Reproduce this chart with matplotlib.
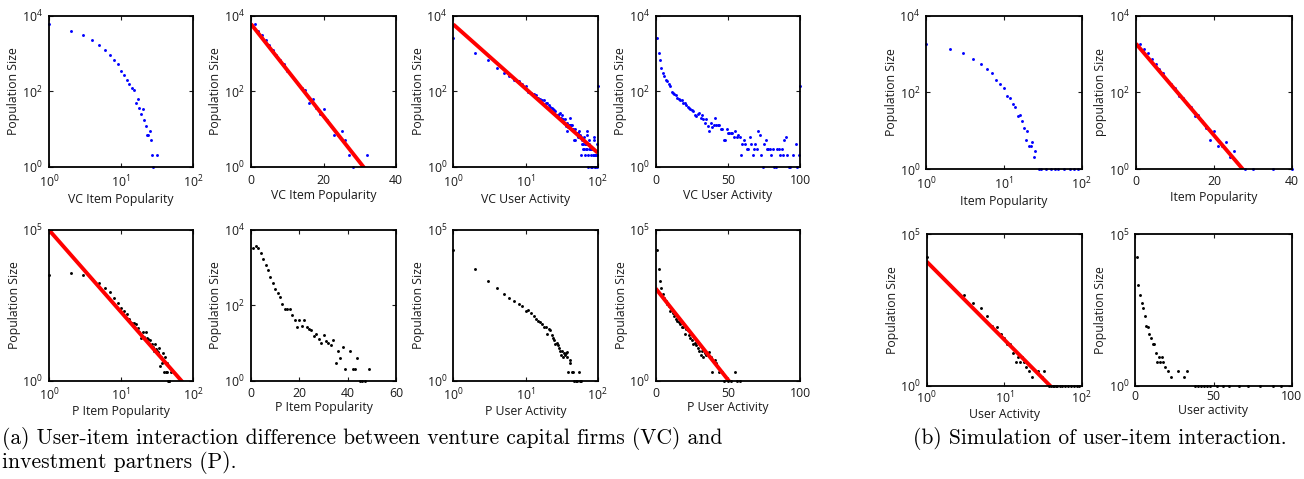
import numpy as np
import matplotlib
matplotlib.use("Agg")
import matplotlib.pyplot as plt
from matplotlib.ticker import FixedLocator, FixedFormatter, NullLocator

plt.rcParams['font.family'] = ['Open Sans', 'DejaVu Sans']
plt.rcParams['mathtext.default'] = 'regular'

# ---------------- data ----------------
# VC item popularity (x: popularity, y: population size)
vc_item_x = [1, 2, 3, 4, 5, 6, 7, 8, 9, 10, 11, 12, 13, 14, 15, 16, 17, 18, 19, 20,
             21, 22, 23, 24, 25, 26, 27, 28, 32]
vc_item_y = [5900, 3880, 3090, 2230, 1640, 1200, 890, 675, 525, 348, 265, 198, 159, 120,
             108, 49, 61, 35, 25, 33, 17, 12, 7, 7, 9, 5, 2, 1, 2]

# VC user activity
vc_user_x = list(range(1, 94)) + [95, 97, 98, 99, 100]
vc_user_y = [2500, 1000, 676, 417, 309, 251, 200, 186, 151, 138,
             98, 91, 83, 78, 68, 62, 59, 59, 50, 48,
             43, 39, 36, 33, 32, 29, 23, 22, 25, 26,
             20, 23, 18, 14, 18, 12, 9, 14, 11, 13,
             19, 13, 13, 13, 10, 10, 5, 5, 10, 8,
             8, 8, 8, 6, 9, 6, 7, 6, 2, 4,
             5, 4, 3, 3, 6, 4, 2, 3, 4, 3,
             9, 7, 2, 1, 4, 5, 3, 3, 3, 2,
             3, 1, 1, 3, 3, 2, 3, 2, 5, 6,
             2, 1, 1, 2, 4, 1, 2, 138]

# P item popularity
p_item_x = list(range(1, 39)) + [39, 41, 42, 43, 44, 49, 45, 46, 47]
p_item_y = [3300, 3800, 3300, 2400, 1740, 1200, 890, 550, 390, 265,
            208, 163, 110, 80, 80, 78, 55, 42, 26, 40,
            28, 40, 27, 24, 22, 15, 17, 13, 10, 16,
            11, 10, 9, 12, 3, 6, 4, 8, 2, 6, 2, 2, 4, 2, 1, 1, 1]

# P user activity
p_user_x = list(range(1, 39)) + [39, 41, 42, 44, 46, 55, 47, 50, 52, 56, 58]
p_user_y = [21900, 4900, 2040, 1200, 770, 550, 440, 350, 295, 210,
            222, 171, 140, 109, 98, 89, 76, 62, 59, 36,
            52, 48, 32, 27, 22, 17, 18, 15, 12, 10,
            7, 10, 6, 8, 7, 8, 9, 6, 2, 5, 4, 2, 2, 2, 1, 1, 1, 1, 1]

# Simulation: item popularity
sim_item_x = [1, 2, 3, 4, 5, 6, 7, 8, 9, 10, 11, 12, 13, 14, 15, 16, 17, 18, 19, 20,
              21, 22, 23, 24, 25, 28, 30, 35, 40, 45, 50, 60, 70, 80, 90]
sim_item_y = [1860, 1320, 1040, 760, 550, 398, 315, 215, 168, 127, 79, 72, 50, 42, 24,
              26, 17.5, 11.7, 5.8, 9.6, 4, 4, 5, 2, 3, 1, 1, 1, 1, 1, 1, 1, 1, 1, 1]

# Simulation: user activity
sim_user_x = [1, 2, 3, 4, 5, 6, 7, 8, 9, 10, 11, 12, 13, 14, 15, 16, 17, 18, 19, 21,
              23, 27, 31, 33, 38, 40, 42, 44, 46, 48, 52, 56, 60, 66, 72, 80, 88, 93]
sim_user_y = [17900, 2090, 975, 530, 355, 198, 95, 84, 52, 37, 24, 24, 12, 6, 9, 6, 9,
              6, 4, 3, 2, 3, 2, 3, 1, 1, 1, 1, 1, 1, 1, 1, 1, 1, 1, 1, 1, 1]

# fitted lines: log10(y) = a + b * x   (semi-log)   or   a + b * log10(x)   (log-log)
vc_item_fit = (3.78, -0.122)
vc_user_fit = (3.77, -1.70)
p_item_fit = (5.0, -2.72)
p_user_fit = (3.06, -0.0606)
sim_item_fit = (3.27, -0.1196)
sim_user_fit = (4.09, -2.57)

# ---------------- figure ----------------
W, H = 1304, 479
fig = plt.figure(figsize=(W / 100, H / 100), dpi=100)

BLUE = '#0000ff'
BLACK = '#000000'
RED = '#ff0000'
FS = 8.8
TXT = '#1a1a1a'


def make_ax(x0, y0, x1, y1):
    return fig.add_axes([x0 / W, 1 - y1 / H, (x1 - x0) / W, (y1 - y0) / H])


def sup(e):
    return r'$\mathdefault{10^{%d}}$' % e


def style(ax, xlog, xlim, xticks, ylim_exp, yticks_exp, xlabel, ylabel,
          xpad=5.0, xlabelpad=2):
    ax.set_yscale('log')
    if xlog:
        ax.set_xscale('log')
    ax.set_xlim(*xlim)
    ax.set_ylim(10 ** ylim_exp[0], 10 ** ylim_exp[1])
    ax.yaxis.set_major_locator(FixedLocator([10.0 ** e for e in yticks_exp]))
    ax.yaxis.set_major_formatter(FixedFormatter([sup(e) for e in yticks_exp]))
    ax.yaxis.set_minor_locator(NullLocator())
    if xlog:
        ax.xaxis.set_major_locator(FixedLocator(xticks))
        ax.xaxis.set_major_formatter(FixedFormatter([sup(int(round(np.log10(t)))) for t in xticks]))
        ax.xaxis.set_minor_locator(NullLocator())
    else:
        ax.xaxis.set_major_locator(FixedLocator(xticks))
        ax.xaxis.set_major_formatter(FixedFormatter([str(t) for t in xticks]))
    ax.tick_params(which='both', direction='in', length=3, width=0.8,
                   top=True, right=True, labelsize=FS, colors=TXT)
    ax.tick_params(axis='x', pad=xpad)
    ax.tick_params(axis='y', pad=4.5)
    for s in ax.spines.values():
        s.set_linewidth(1.3)
        s.set_color('black')
        s.set_zorder(5)
    ax.set_xlabel(xlabel, fontsize=FS, color=TXT, labelpad=xlabelpad)
    ax.set_ylabel(ylabel, fontsize=FS, color=TXT, labelpad=1)


def dots(ax, x, y, color):
    ax.plot(x, y, linestyle='none', marker='o', ms=2.1, mew=0, color=color,
            clip_on=False, zorder=3)


def fit_line(ax, fit, xlog, xr):
    a, b = fit
    xs = np.array(xr, dtype=float)
    if xlog:
        ys = 10 ** (a + b * np.log10(xs))
    else:
        ys = 10 ** (a + b * xs)
    ax.plot(xs, ys, color=RED, lw=2.8, zorder=4, solid_capstyle='butt')


# positions (pixels)
TOP = (15.7, 166.7)
BOT = (230, 380.7)
LX = [(49, 193), (251, 396), (453.3, 597.7), (655.7, 800.3)]
RX_T = [(926.3, 1081.7), (1136, 1292)]
RX_B = [(926.7, 1081.7), (1135.3, 1291.7)]
RTOP = (15.7, 169)
RBOT = (234, 385.7)

# --- top row, (a)
ax = make_ax(LX[0][0], TOP[0], LX[0][1], TOP[1])
style(ax, True, (1, 100), [1, 10, 100], (0, 4), [0, 2, 4], 'VC Item Popularity', 'Population Size')
dots(ax, vc_item_x, vc_item_y, BLUE)

ax = make_ax(LX[1][0], TOP[0], LX[1][1], TOP[1])
style(ax, False, (0, 40), [0, 20, 40], (0, 4), [0, 2, 4], 'VC Item Popularity', 'Population Size')
dots(ax, vc_item_x, vc_item_y, BLUE)
fit_line(ax, vc_item_fit, False, [0, 40])

ax = make_ax(LX[2][0], TOP[0], LX[2][1], TOP[1])
style(ax, True, (1, 100), [1, 10, 100], (0, 4), [0, 2, 4], 'VC User Activity', 'Population Size')
dots(ax, vc_user_x, vc_user_y, BLUE)
fit_line(ax, vc_user_fit, True, [1, 100])

ax = make_ax(LX[3][0], TOP[0], LX[3][1], TOP[1])
style(ax, False, (0, 100), [0, 50, 100], (0, 4), [0, 2, 4], 'VC User Activity', 'Population Size')
dots(ax, vc_user_x, vc_user_y, BLUE)

# --- bottom row, (a)
ax = make_ax(LX[0][0], BOT[0], LX[0][1], BOT[1])
style(ax, True, (1, 100), [1, 10, 100], (0, 5), [0, 5], 'P Item Popularity', 'Population Size',
      xpad=4.5, xlabelpad=1)
dots(ax, p_item_x, p_item_y, BLACK)
fit_line(ax, p_item_fit, True, [1, 100])

ax = make_ax(LX[1][0], BOT[0], LX[1][1], BOT[1])
style(ax, False, (0, 60), [0, 20, 40, 60], (0, 4), [0, 2, 4], 'P Item Popularity', 'Population Size',
      xpad=4.5, xlabelpad=1)
dots(ax, p_item_x, p_item_y, BLACK)

ax = make_ax(LX[2][0], BOT[0], LX[2][1], BOT[1])
style(ax, True, (1, 100), [1, 10, 100], (0, 5), [0, 5], 'P User Activity', 'Population Size',
      xpad=4.5, xlabelpad=1)
dots(ax, p_user_x, p_user_y, BLACK)

ax = make_ax(LX[3][0], BOT[0], LX[3][1], BOT[1])
style(ax, False, (0, 100), [0, 50, 100], (0, 5), [0, 5], 'P User Activity', 'Population Size',
      xpad=4.5, xlabelpad=1)
dots(ax, p_user_x, p_user_y, BLACK)
fit_line(ax, p_user_fit, False, [0, 100])

# --- right group, (b)
ax = make_ax(RX_T[0][0], RTOP[0], RX_T[0][1], RTOP[1])
style(ax, True, (1, 100), [1, 10, 100], (0, 4), [0, 2, 4], 'Item Popularity', 'Population Size',
      xpad=4.5, xlabelpad=2)
dots(ax, sim_item_x, sim_item_y, BLUE)

ax = make_ax(RX_T[1][0], RTOP[0], RX_T[1][1], RTOP[1])
style(ax, False, (0, 40), [0, 20, 40], (0, 4), [0, 2, 4], 'Item Popularity', 'population Size',
      xpad=4.5, xlabelpad=2)
dots(ax, sim_item_x, sim_item_y, BLUE)
fit_line(ax, sim_item_fit, False, [0, 40])

ax = make_ax(RX_B[0][0], RBOT[0], RX_B[0][1], RBOT[1])
style(ax, True, (1, 100), [1, 10, 100], (0, 5), [0, 5], 'User Activity', 'Population Size',
      xpad=3, xlabelpad=1)
dots(ax, sim_user_x, sim_user_y, BLACK)
fit_line(ax, sim_user_fit, True, [1, 100])

ax = make_ax(RX_B[1][0], RBOT[0], RX_B[1][1], RBOT[1])
style(ax, False, (0, 100), [0, 50, 100], (0, 5), [0, 5], 'User activity', 'Population Size',
      xpad=3, xlabelpad=1)
dots(ax, sim_user_x, sim_user_y, BLACK)

# captions
cap_font = ['cmr10', 'DejaVu Serif']
CFS = 15.5
fig.text(2 / W, 1 - 439 / H, '(a) User-item interaction difference between venture capital firms (VC) and',
         fontsize=CFS, family=cap_font, va='center', ha='left')
fig.text(2 / W, 1 - 462 / H, 'investment partners (P).',
         fontsize=CFS, family=cap_font, va='center', ha='left')
fig.text(913 / W, 1 - 439 / H, '(b) Simulation of user-item interaction.',
         fontsize=CFS, family=cap_font, va='center', ha='left')

fig.savefig('out.png', dpi=100)
